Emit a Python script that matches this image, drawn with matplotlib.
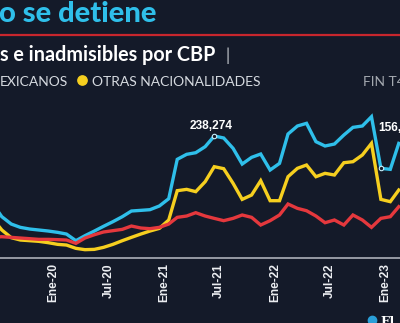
import numpy as np
import pandas as pd
import matplotlib
matplotlib.use('Agg')
import matplotlib.pyplot as plt
from matplotlib.lines import Line2D

# monthly encounters, Jul-2019 .. Mar-2023
months = pd.date_range('2019-07-01', '2023-03-01', freq='MS')
total = [106400, 80300, 65900, 59400, 56100, 54200,
         52200, 49600, 46300, 33300, 43100, 52200, 61400, 70500, 80300, 91400, 92700, 94000,
         101200, 115500, 192600, 202400, 205600, 217400, 238274, 234400, 214100, 183400, 196500, 203000,
         171700, 184700, 242200, 257900, 263100, 227200, 218700, 222600, 240200, 255200, 257900, 276100,
         175000, 173000, 223900]
mexicanos = [39800, 41100, 39800, 38500, 37200, 35900,
             35900, 35300, 34600, 28100, 38500, 45000, 50300, 52900, 55500, 62000, 58100, 56800,
             59400, 65900, 79000, 81600, 88100, 81600, 77000, 72500, 77000, 83600, 79000, 64000,
             72500, 83600, 105100, 96600, 92000, 81600, 68500, 73800, 64000, 83600, 73800, 59400,
             77000, 80300, 99900]
otras = [77000, 54200, 39200, 34600, 33300, 32000,
         29400, 26100, 24800, 18300, 15700, 16300, 20200, 26100, 33300, 39800, 46300, 52200,
         57400, 73800, 131200, 133800, 129300, 148800, 178200, 174300, 145600, 114200, 122700, 150800,
         111600, 111600, 158600, 175000, 181500, 158600, 165200, 161900, 186000, 188000, 201100, 223900,
         114200, 109700, 132500]

tick_dates = ['2020-01-01', '2020-07-01', '2021-01-01', '2021-07-01',
              '2022-01-01', '2022-07-01', '2023-01-01']
tick_labels = ['Ene-20', 'Jul-20', 'Ene-21', 'Jul-21', 'Ene-22', 'Jul-22', 'Ene-23']

note_dates = ['2021-07-01', '2023-01-01']
note_texts = ['238,274', '156,630']

bg = '#141a29'
cyan = '#2fbfea'
yellow = '#f6cf1f'
red = '#e5383d'
narrow = 'Liberation Sans'

fig = plt.figure(figsize=(4, 3.23), dpi=100, facecolor=bg)
ax = fig.add_axes([0, 0.2022, 1, 0.4882])
ax.set_facecolor(bg)

ax.plot(months, total, color=cyan, lw=2.4, solid_joinstyle='miter', zorder=2)
ax.plot(months, otras, color=yellow, lw=2.4, solid_joinstyle='miter', zorder=3)
ax.plot(months, mexicanos, color=red, lw=2.4, solid_joinstyle='miter', zorder=4)

s_total = pd.Series(total, index=months)
for d, t in zip(note_dates, note_texts):
    v = s_total[pd.Timestamp(d)]
    ax.plot(pd.Timestamp(d), v, 'o', ms=3.2, mfc=bg, mec='#c9eefa', mew=0.8, zorder=6)
    if t.startswith('238'):
        ax.annotate(t, xy=(pd.Timestamp(d), v), xytext=(-2, 5), textcoords='offset points',
                    ha='center', va='baseline', color='white', family=narrow,
                    fontweight='bold', fontsize=8.6)
    else:
        ax.annotate(t, xy=(pd.Timestamp(d), v), xytext=(-2, 27), textcoords='offset points',
                    ha='left', va='baseline', color='white', family=narrow,
                    fontweight='bold', fontsize=8.6)

ax.set_xlim(pd.Timestamp('2019-07-26'), pd.Timestamp('2023-03-05'))
ax.set_ylim(0, 308800)
for s in ['top', 'right', 'left']:
    ax.spines[s].set_visible(False)
ax.spines['bottom'].set_color('#b9bdc5')
ax.spines['bottom'].set_linewidth(1.1)
ax.set_yticks([])
ax.set_xticks(pd.to_datetime(tick_dates) + pd.Timedelta(days=16))
ax.set_xticklabels(tick_labels, rotation=90, color='#eceef2', family=narrow,
                   fontweight='bold', fontsize=8.6)
ax.tick_params(axis='x', length=0, pad=4)

# header
fig.text(-0.002, 0.933, 'o se detiene', color=cyan, fontsize=21,
         fontweight='black', family='Lato', va='baseline')
fig.add_artist(Line2D([0, 1], [0.893, 0.893], color='#c8262d', lw=1.6))
fig.text(0, 0.812, 's e inadmisibles por CBP', color='white', fontsize=14.2,
         fontweight='bold', family='Lato', va='baseline')
fig.text(0.565, 0.812, '|', color='#c8ccd2', fontsize=12, family='Lato', va='baseline')
fig.text(0, 0.735, 'EXICANOS', color='#d6dae0', fontsize=10, family='Lato', va='baseline')
fig.add_artist(Line2D([0.205], [0.752], marker='o', ms=6.7, color=yellow, lw=0))
fig.text(0.23, 0.735, 'OTRAS NACIONALIDADES', color='#d6dae0', fontsize=10,
         family='Lato', va='baseline')
fig.text(0.9075, 0.735, 'FIN T4', color='#a4a9b0', fontsize=10, family='Lato', va='baseline')

# logo corner
fig.add_artist(Line2D([0.93], [0.01], marker='o', ms=6, color='#2a9fd8', lw=0))
fig.text(0.95, 0.021, 'El', color='white', fontsize=9, fontweight='bold',
         family='DejaVu Serif', va='top')

fig.savefig('out.png', dpi=100, facecolor=bg)
